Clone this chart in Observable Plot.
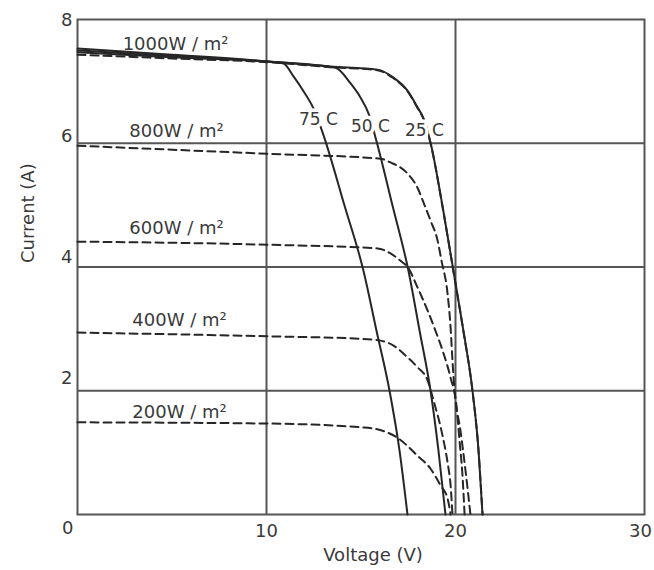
<!DOCTYPE html>
<html><head><meta charset="utf-8">
<script src="https://cdn.jsdelivr.net/npm/d3@7"></script>
<script src="https://cdn.jsdelivr.net/npm/@observablehq/plot@0.6"></script>
<style>body{margin:0;background:#fff}</style>
</head><body><div id="chart"></div>
<script>
// Solid curves: 1000 W/m² at different cell temperatures  [voltage V, current A]
const temp75C = [[0,7.53],[5,7.43],[10.05,7.32],[10.9,7.29],[11.43,7.08],[11.96,6.84],[12.49,6.56],[12.96,6.18],[14.13,4.99],[15.13,3.94],[15.82,2.97],[16.51,2.0],[17.04,1.03],[17.46,0]];
const temp50C = [[0,7.50],[5,7.41],[10.05,7.32],[13.65,7.22],[14.44,6.97],[14.97,6.74],[15.4,6.48],[15.77,6.09],[16.67,4.99],[17.51,3.94],[18.1,2.97],[18.68,2.0],[19.1,1.03],[19.47,0]];
const temp25C = [[0,7.47],[5,7.39],[10.05,7.32],[13.39,7.24],[15.87,7.19],[16.72,7.06],[17.46,6.85],[17.99,6.58],[18.31,6.40],[18.68,6.01],[19.31,4.99],[19.89,3.94],[20.42,2.97],[20.9,2.0],[21.22,1.03],[21.43,0]];
// Dashed curves: 25 °C at different irradiances
const irr1000 = [[0,7.43],[5,7.37],[10.05,7.31],[13.39,7.23],[15.87,7.18],[16.72,7.05],[17.46,6.84],[17.99,6.57],[18.31,6.39],[18.68,6.0],[19.31,4.98],[19.89,3.93],[20.42,2.96],[20.9,1.99],[21.22,1.02],[21.43,0]];
const irr800 = [[0,5.96],[10.05,5.83],[16.03,5.75],[16.56,5.69],[17.46,5.51],[17.99,5.28],[18.31,5.04],[18.68,4.75],[19.05,4.43],[19.26,4.10],[19.58,3.57],[19.74,3.02],[19.84,2.49],[19.95,2.0],[20.26,1.36],[20.53,0.71],[20.79,0]];
const irr600 = [[0,4.41],[10.05,4.36],[15.87,4.30],[16.56,4.22],[17.09,4.10],[17.51,3.98],[17.99,3.67],[18.52,3.30],[18.94,2.97],[19.37,2.60],[19.74,2.21],[20.05,1.76],[20.21,1.20],[20.37,0.63],[20.48,0]];
const irr400 = [[0,2.94],[10.05,2.88],[14.97,2.84],[16.03,2.81],[16.72,2.73],[17.46,2.54],[17.99,2.38],[18.52,2.17],[18.84,1.84],[19.31,1.28],[19.58,0.84],[19.74,0.47],[19.84,0]];
const irr200 = [[0,1.49],[10.05,1.47],[14.97,1.41],[15.66,1.39],[16.93,1.24],[17.99,0.95],[18.68,0.74],[19.21,0.47],[19.58,0.26],[19.74,0]];

const irrLabels = ["1000W / m²","800W / m²","600W / m²","400W / m²","200W / m²"];
const irrLabelV = [5.19,5.24,5.24,5.40,5.40];
const irrLabelA = [7.60,6.19,4.62,3.14,1.66];
const tempLabels = ["75 C","50 C","25 C"];
const tempLabelV = [12.75,15.50,18.36];
const tempLabelA = [6.38,6.27,6.21];

const xTicks = [10,20,30];
const yTicks = [2,4,6,8];

const toRows = (name, pts) => pts.map(([v,a]) => ({curve:name, v, a}));
const solidRows = [...toRows("75C",temp75C), ...toRows("50C",temp50C), ...toRows("25C",temp25C)];
const dashedRows = [...toRows("1000",irr1000), ...toRows("800",irr800), ...toRows("600",irr600), ...toRows("400",irr400), ...toRows("200",irr200)];
const irrTable = irrLabels.map((t,i) => ({t, v:irrLabelV[i], a:irrLabelA[i]}));
const tempTable = tempLabels.map((t,i) => ({t, v:tempLabelV[i], a:tempLabelA[i]}));

const ink = "#262626";
const txt = "#3a3a3a";
const font = 18;
// vertical nudge (px) of each y tick label relative to its grid line
const yTickNudge = {2: -13, 4: -10, 6: -7, 8: 1};

const chart = Plot.plot({
  width: 654, height: 570,
  marginLeft: 77, marginRight: 10, marginTop: 19, marginBottom: 56,
  style: {fontFamily: "DejaVu Sans", background: "#fff"},
  x: {domain: [0,30], axis: null},
  y: {domain: [0,8], axis: null},
  marks: [
    Plot.gridX(xTicks.slice(0,2), {stroke: "#555", strokeOpacity: 1, strokeWidth: 2}),
    Plot.gridY(yTicks.slice(0,3), {stroke: "#555", strokeOpacity: 1, strokeWidth: 2}),
    Plot.frame({stroke: "#555", strokeWidth: 2}),
    Plot.line(dashedRows, {x: "v", y: "a", z: "curve", stroke: ink, strokeWidth: 2, strokeDasharray: "8,5", curve: "monotone-x"}),
    Plot.line(solidRows, {x: "v", y: "a", z: "curve", stroke: ink, strokeWidth: 2, curve: "monotone-x"}),
    Plot.text(irrTable, {x: "v", y: "a", text: "t", fill: txt, fontSize: 18, textAnchor: "middle", lineAnchor: "middle"}),
    Plot.text(tempTable, {x: "v", y: "a", text: "t", fill: txt, fontSize: 17, textAnchor: "middle", lineAnchor: "middle", stroke: "#fff", strokeWidth: 7, paintOrder: "stroke"}),
    // y tick labels
    ...yTicks.map(t => Plot.text([t], {x: 0, y: d => d, text: d => String(d), fill: txt, fontSize: font, textAnchor: "end", lineAnchor: "middle", dx: -5, dy: yTickNudge[t]})),
    // origin label
    Plot.text([0], {x: 0, y: 0, text: d => String(d), fill: txt, fontSize: font, textAnchor: "end", lineAnchor: "middle", dx: -4, dy: 14}),
    // x tick labels
    Plot.text(xTicks.slice(0,2), {x: d => d, y: 0, text: d => String(d), fill: txt, fontSize: font, textAnchor: "middle", lineAnchor: "middle", dy: 17}),
    Plot.text(xTicks.slice(2), {x: d => d, y: 0, text: d => String(d), fill: txt, fontSize: font, textAnchor: "middle", lineAnchor: "middle", dx: -4, dy: 17}),
    // axis titles
    Plot.text(["Voltage (V)"], {frameAnchor: "bottom", text: d => d, fill: txt, fontSize: font, lineAnchor: "middle", dx: 12, dy: 41, style: "letter-spacing:1.2px"}),
    Plot.text(["Current (A)"], {frameAnchor: "left", text: d => d, fill: txt, fontSize: font, lineAnchor: "middle", rotate: -90, dx: -49, dy: -4, style: "letter-spacing:0.8px"})
  ]
});
document.getElementById("chart").append(chart);
</script>
</body></html>
